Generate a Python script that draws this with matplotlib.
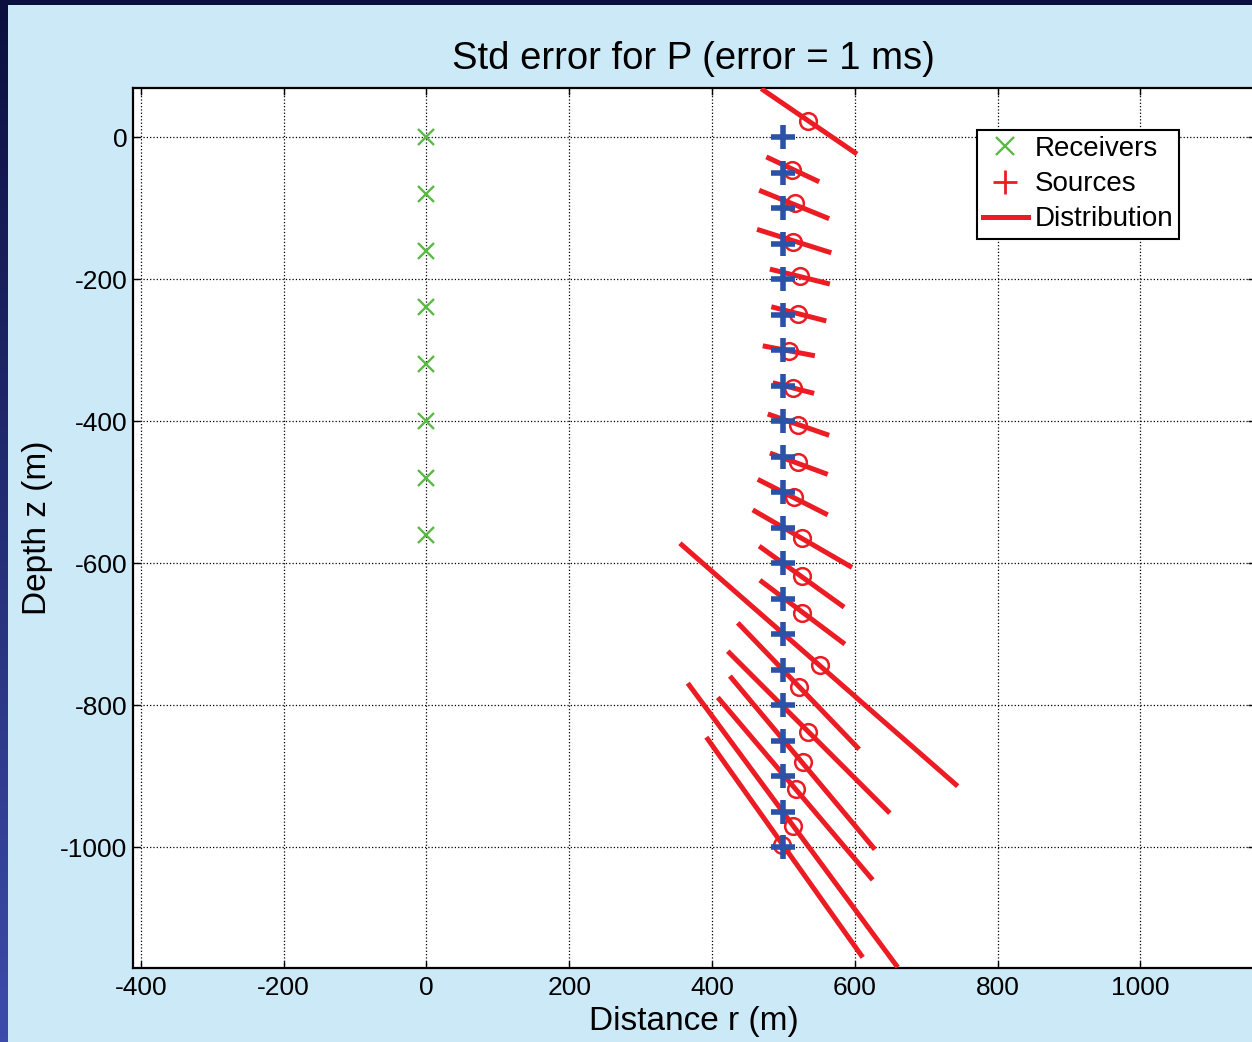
import numpy as np
import matplotlib
matplotlib.use('Agg')
import matplotlib.pyplot as plt
from matplotlib.lines import Line2D
from matplotlib.patches import Rectangle

plt.rcParams['font.family'] = ['Liberation Sans', 'DejaVu Sans']
plt.rcParams['axes.unicode_minus'] = False

# receivers (green x) at r = 0
rec_r = [0, 0, 0, 0, 0, 0, 0, 0]
rec_z = [0, -80, -160, -240, -320, -400, -480, -560]

# sources (blue +) at r = 500
src_r = [500] * 21
src_z = [0, -50, -100, -150, -200, -250, -300, -350, -400, -450, -500,
         -550, -600, -650, -700, -750, -800, -850, -900, -950, -1000]

# located positions (red circles)
loc_r = [534, 512, 516, 513, 523, 520, 508, 513, 520, 520, 515,
         526, 526, 526, 551, 522, 534, 527, 518, 513, 498]
loc_z = [22, -46, -93, -148, -196, -249, -301, -354, -405, -458, -507,
         -565, -618, -670, -744, -775, -838, -880, -918, -970, -997]

# distribution segments (red lines), end points
d_r1 = [469, 476, 466, 463, 481, 483, 471, 485, 478, 481, 464,
        457, 466, 467, 355, 436, 422, 425, 408, 366, 392]
d_z1 = [68, -28, -75, -130, -186, -239, -294, -346, -390, -445, -482,
        -525, -576, -624, -572, -684, -724, -759, -789, -769, -845]
d_r2 = [603, 550, 564, 567, 565, 560, 544, 543, 564, 562, 562,
        596, 585, 586, 744, 606, 649, 628, 625, 660, 611]
d_z2 = [-24, -63, -115, -163, -207, -259, -308, -361, -420, -475, -532,
        -606, -662, -714, -914, -862, -952, -1003, -1046, -1169, -1155]

W, H = 1252, 1042
fig = plt.figure(figsize=(W / 100, H / 100), dpi=100)
fig.patch.set_facecolor('#cce9f8')

# slide border: dark top band, blue gradient on the left
fig.patches.append(Rectangle((0, 1 - 5 / H), 1, 5 / H, transform=fig.transFigure,
                             facecolor='#0b0f3f', edgecolor='none', zorder=0))
gax = fig.add_axes([0, 0, 8 / W, 1])
grad = np.linspace(0, 1, 256).reshape(-1, 1)
cmap = matplotlib.colors.LinearSegmentedColormap.from_list('b', ['#0b0f3f', '#3d4cab'])
gax.imshow(grad, aspect='auto', cmap=cmap, extent=[0, 1, 0, 1], origin='upper')
gax.axis('off')

xlim = (-411, 1160)
ylim = (-1170, 69)
px_per_x = 0.714
ax_left, ax_bot, ax_top = 133, 968, 88
ax_w = (xlim[1] - xlim[0]) * px_per_x
ax = fig.add_axes([ax_left / W, 1 - ax_bot / H, ax_w / W, (ax_bot - ax_top) / H])
ax.set_facecolor('white')

red = '#ec1c24'
for i in range(len(d_r1)):
    ax.plot([d_r1[i], d_r2[i]], [d_z1[i], d_z2[i]], color=red, lw=3.6,
            solid_capstyle='butt', zorder=3)
ax.plot(loc_r, loc_z, ls='none', marker='o', ms=12, mfc='none', mec=red, mew=1.8, zorder=4)
ax.plot(src_r, src_z, ls='none', marker='+', ms=17, mec='#2b52a6', mew=4, zorder=5)
ax.plot(rec_r, rec_z, ls='none', marker='x', ms=12, mec='#5cb847', mew=1.7, zorder=5)

ax.set_xlim(xlim)
ax.set_ylim(ylim)
ax.set_xticks([-400, -200, 0, 200, 400, 600, 800, 1000])
ax.set_yticks([-1000, -800, -600, -400, -200, 0])
ax.grid(True, color='black', ls=':', lw=0.9)
ax.tick_params(direction='in', top=True, right=True, length=5, width=1,
               labelsize=19, pad=6)
ax.tick_params(axis='y', pad=4)
for s in ax.spines.values():
    s.set_linewidth(1.6)
    s.set_color('black')

ax.set_title('Std error for P (error = 1 ms)', fontsize=27.5, pad=14)
ax.set_xlabel('Distance r (m)', fontsize=24, labelpad=4)
ax.set_ylabel('Depth z (m)', fontsize=24, labelpad=5)

handles = [
    Line2D([], [], ls='none', marker='x', ms=13, mec='#5cb847', mew=1.7),
    Line2D([], [], ls='none', marker='+', ms=17, mec=red, mew=2),
    Line2D([], [], color=red, lw=3.6),
]
leg = ax.legend(handles, ['Receivers', 'Sources', 'Distribution'], loc='upper left',
                bbox_to_anchor=((977 - ax_left) / ax_w, (ax_bot - 130) / (ax_bot - ax_top)),
                borderaxespad=0, fontsize=20, handlelength=1.6, handletextpad=0.25,
                labelspacing=0.33, borderpad=0.22, fancybox=False, framealpha=1,
                edgecolor='black')
leg.get_frame().set_linewidth(1.5)

fig.savefig('out.png', dpi=100, facecolor=fig.get_facecolor())
